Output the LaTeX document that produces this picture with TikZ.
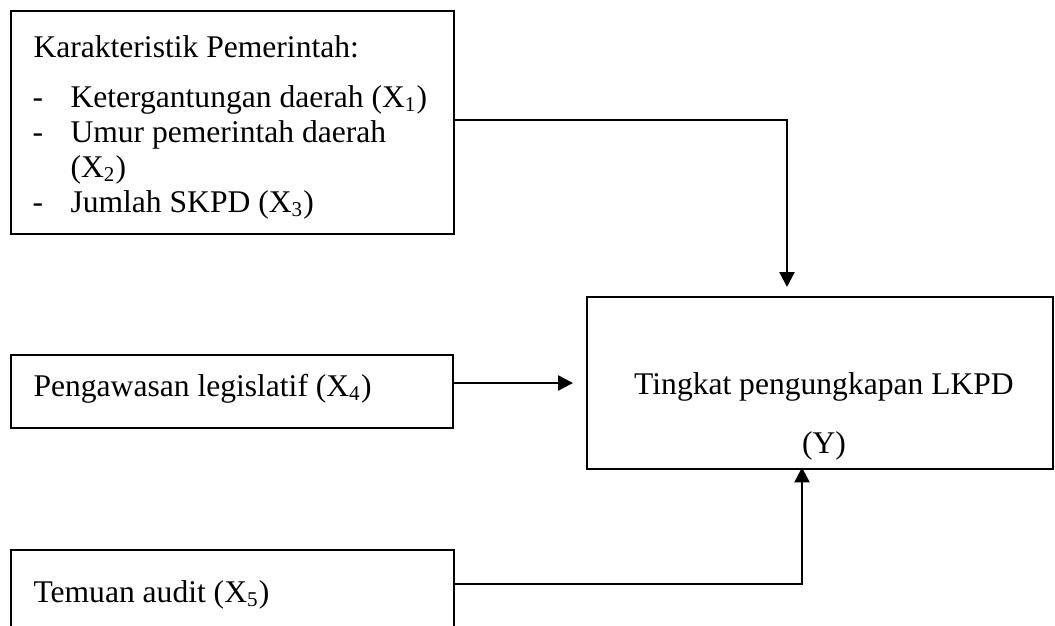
\documentclass[tikz,border=0pt]{standalone}
\usepackage{fontspec}
\setmainfont{Liberation Serif}
\usetikzlibrary{arrows.meta,fit}
\begin{document}
\begin{tikzpicture}[x=0.38pt,y=-0.38pt,
  box/.style={draw, line width=0.9pt, inner sep=0pt, outer sep=0pt},
  txt/.style={anchor=base west, inner sep=0pt, font=\fontsize{12}{13.8}\selectfont},
  ctxt/.style={anchor=base, inner sep=0pt, font=\fontsize{12}{13.8}\selectfont},
  conn/.style={line width=0.85pt, -{Triangle[length=5.7pt,width=5.7pt]}}]
\clip (0,0) rectangle (1055,625);
\fill[white] (0,0) rectangle (1055,625);
% box corners
\coordinate (b1a) at (11,11);   \coordinate (b1b) at (454,234);
\coordinate (b4a) at (11,355);  \coordinate (b4b) at (453,428);
\coordinate (b5a) at (11,550);  \coordinate (b5b) at (454,660);
\coordinate (ya)  at (587,297); \coordinate (yb)  at (1053,469);
\node[box, fit=(b1a)(b1b)] (b1) {};
\node[box, fit=(b4a)(b4b)] (b4) {};
\node[box, fit=(b5a)(b5b)] (b5) {};
\node[box, fit=(ya)(yb)] (y) {};
% texts
\node[txt] (t0) at (33,57) {Karakteristik Pemerintah:};
\node[txt] (d1) at (32,107) {-};
\node[txt] (t1) at (70,107) {Ketergantungan daerah (X\textsubscript{1})};
\node[txt] (d2) at (32,142) {-};
\node[txt] (t2) at (70,142) {Umur pemerintah daerah};
\node[txt] (t2b) at (70,177) {(X\textsubscript{2})};
\node[txt] (d3) at (32,212) {-};
\node[txt] (t3) at (70,212) {Jumlah SKPD (X\textsubscript{3})};
\node[txt] (t4) at (33,396) {Pengawasan legislatif (X\textsubscript{4})};
\node[ctxt] (ty1) at (824,394) {Tingkat pengungkapan LKPD};
\node[ctxt] (ty2) at (824,453) {(Y)};
\node[txt] (t5) at (33,602) {Temuan audit (X\textsubscript{5})};
% connectors
\coordinate (k1) at (787,120);
\draw[conn, shorten >=3.8pt] (b1.east |- k1) -- (k1) -- (k1 |- y.north);
\coordinate (k4) at (520,383);
\draw[conn, shorten >=5.3pt] (b4.east |- k4) -- (y.west |- k4);
\coordinate (k5) at (802,584);
\draw[conn, shorten >=-0.6pt] (b5.east |- k5) -- (k5) -- (k5 |- y.south);
\end{tikzpicture}
\end{document}
